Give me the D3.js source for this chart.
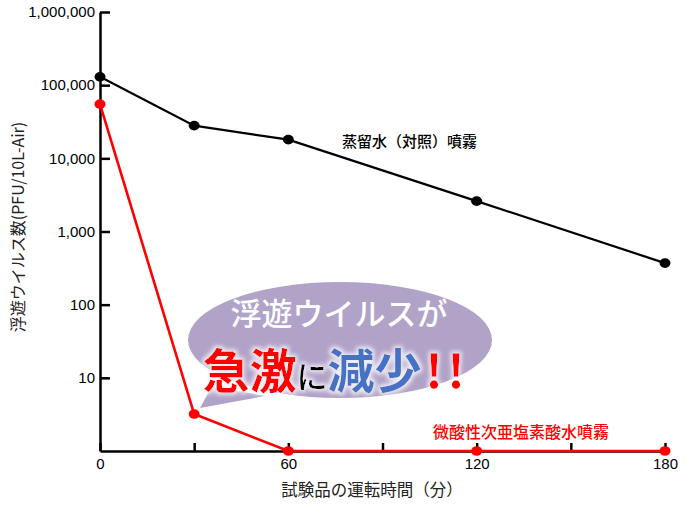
<!DOCTYPE html>
<html>
<head>
<meta charset="utf-8">
<script src="https://d3js.org/d3.v7.min.js"></script>
<style>
  body { margin: 0; background: #fff; }
  .axis path, .axis line { stroke: #000; stroke-width: 2.5px; }
  .axis text { font-family: "Liberation Sans", Arial, sans-serif; font-size: 15px; fill: #000; }
  .jp { font-family: "Noto Sans CJK JP", sans-serif; }
</style>
</head>
<body>
<svg id="chart" width="687" height="508"></svg>
<script>
// --- data ---
var times = [0, 30, 60, 120, 180];
var waterSeries = [130000, 28000, 18000, 2600, 370];     // 蒸留水（対照）噴霧
var acidSeries = [55000, 3.2, 1, 1, 1];                  // 微酸性次亜塩素酸水噴霧
var yTickValues = [10, 100, 1000, 10000, 100000, 1000000];
var xTickValues = [0, 30, 60, 90, 120, 150, 180];
var xLabelValues = [0, 60, 120, 180];

var svg = d3.select("#chart");

var x = d3.scaleLinear().domain([0, 180]).range([100, 665]);
var y = d3.scaleLog().domain([1, 1000000]).range([451, 12]);

// soft white glow behind the big callout words
var defs = svg.append("defs");
var glow = defs.append("filter").attr("id", "glow")
  .attr("x", "-20%").attr("y", "-20%").attr("width", "140%").attr("height", "140%");
glow.append("feMorphology").attr("in", "SourceAlpha").attr("operator", "dilate").attr("radius", 1.5).attr("result", "fat");
glow.append("feGaussianBlur").attr("in", "fat").attr("stdDeviation", 2.2).attr("result", "blur");
glow.append("feFlood").attr("flood-color", "#fff").attr("flood-opacity", 0.8);
glow.append("feComposite").attr("in2", "blur").attr("operator", "in").attr("result", "halo");
var merge = glow.append("feMerge");
merge.append("feMergeNode").attr("in", "halo");
merge.append("feMergeNode").attr("in", "SourceGraphic");

// axes
svg.append("g").attr("class", "axis")
  .attr("transform", "translate(100,0)")
  .call(d3.axisLeft(y).tickValues(yTickValues).tickFormat(d3.format(",")).tickSize(-10).tickPadding(5).tickSizeOuter(0));

svg.append("g").attr("class", "axis")
  .attr("transform", "translate(0,451)")
  .call(d3.axisBottom(x).tickValues(xTickValues)
    .tickFormat(function(d) { return xLabelValues.indexOf(d) >= 0 ? d : ""; })
    .tickSize(-8).tickPadding(7).tickSizeOuter(0));

// axis titles
svg.append("text").attr("class", "jp")
  .attr("transform", "translate(24,227) rotate(-90)")
  .attr("text-anchor", "middle").attr("font-size", 16).attr("fill", "#222")
  .text("浮遊ウイルス数(PFU/10L-Air)");

svg.append("text").attr("class", "jp")
  .attr("x", 372).attr("y", 496)
  .attr("text-anchor", "middle").attr("font-size", 16.5).attr("fill", "#222")
  .text("試験品の運転時間（分）");

// series
var line = d3.line()
  .x(function(d) { return x(d[0]); })
  .y(function(d) { return y(d[1]); });

var water = times.map(function(t, i) { return [t, waterSeries[i]]; });
var acid = times.map(function(t, i) { return [t, acidSeries[i]]; });

svg.append("path").datum(water).attr("d", line)
  .attr("fill", "none").attr("stroke", "#000").attr("stroke-width", 2.2);
svg.selectAll(".wdot").data(water).enter().append("ellipse")
  .attr("cx", function(d) { return x(d[0]); })
  .attr("cy", function(d) { return y(d[1]); })
  .attr("rx", 5.5).attr("ry", 4.8).attr("fill", "#000");

svg.append("path").datum(acid).attr("d", line)
  .attr("fill", "none").attr("stroke", "#ff0000").attr("stroke-width", 2.6);
svg.selectAll(".adot").data(acid).enter().append("ellipse")
  .attr("cx", function(d) { return x(d[0]); })
  .attr("cy", function(d) { return y(d[1]); })
  .attr("rx", 5.5).attr("ry", 4.8).attr("fill", "#ff0000");

// series labels
svg.append("text").attr("class", "jp")
  .attr("x", 342).attr("y", 147).attr("font-size", 15).attr("font-weight", 500).attr("fill", "#000")
  .text("蒸留水（対照）噴霧");

svg.append("text").attr("class", "jp")
  .attr("x", 433).attr("y", 438).attr("font-size", 16).attr("font-weight", 500).attr("fill", "#ff0000")
  .text("微酸性次亜塩素酸水噴霧");

// callout bubble
var bubble = svg.append("g");
bubble.append("path")
  .attr("d", "M212,386 L200,408 L265,396 Z")
  .attr("fill", "#b1a2c8");
bubble.append("ellipse")
  .attr("cx", 340).attr("cy", 340).attr("rx", 152).attr("ry", 58)
  .attr("fill", "#b1a2c8");

bubble.append("text").attr("class", "jp")
  .attr("x", 339).attr("y", 325).attr("text-anchor", "middle")
  .attr("font-size", 31).attr("font-weight", 500).attr("fill", "#fff")
  .text("浮遊ウイルスが");

var big = bubble.append("text").attr("class", "jp")
  .attr("x", 336).attr("y", 388).attr("text-anchor", "middle")
  .attr("font-weight", 700).attr("filter", "url(#glow)");
big.append("tspan").attr("font-size", 47).attr("fill", "#ff0000").text("急激");
big.append("tspan").attr("font-size", 31).attr("font-weight", 500).attr("fill", "#000").text("に");
big.append("tspan").attr("font-size", 47).attr("fill", "#4472c4").text("減少");
big.append("tspan").attr("font-size", 46).attr("fill", "#ff0000").attr("dx", 4).attr("letter-spacing", 5).text("!!");
</script>
</body>
</html>
